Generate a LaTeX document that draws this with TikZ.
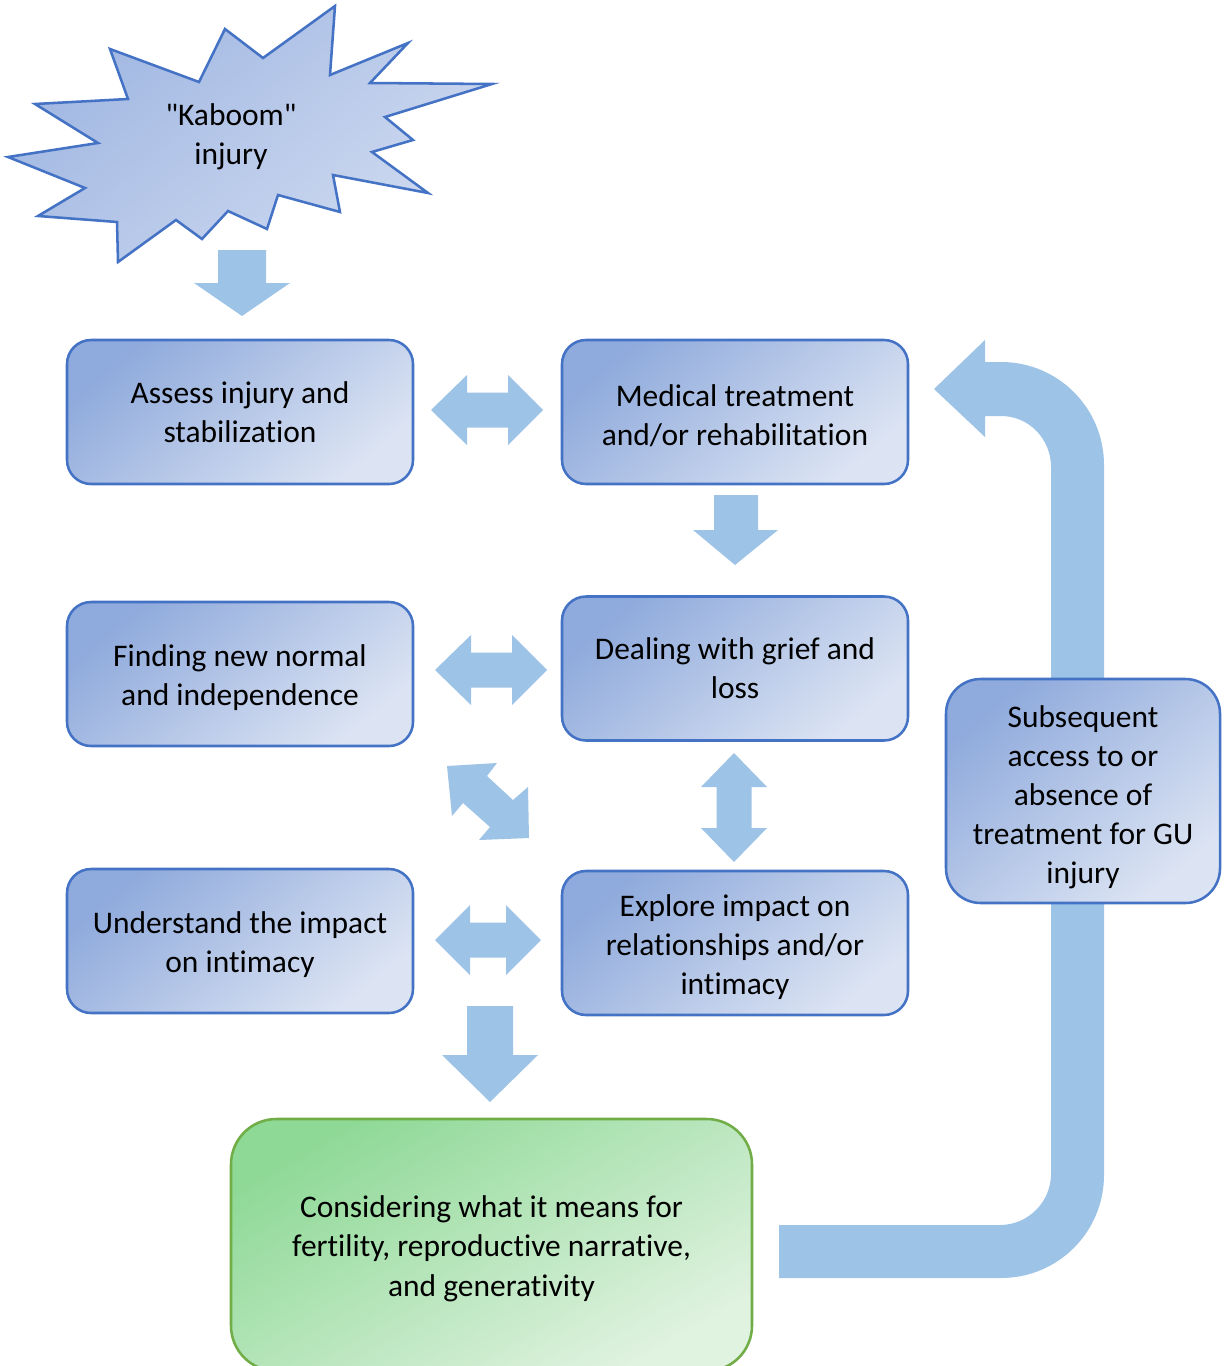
\documentclass[tikz,border=0pt]{standalone}
\usepackage{fontspec}
\setmainfont{Carlito}[Ligatures={TeXOff,NoCommon}]
\definecolor{arrowblue}{HTML}{9DC3E6}
\definecolor{boxline}{HTML}{4472C4}
\definecolor{bluedark}{HTML}{8FAADC}
\definecolor{bluelight}{HTML}{DCE4F3}
\definecolor{stardark}{HTML}{A0B7E2}
\definecolor{starlight}{HTML}{CFDAF0}
\definecolor{greendark}{HTML}{8FD997}
\definecolor{greenlight}{HTML}{E0F2E0}
\definecolor{greenline}{HTML}{70AD47}
\newcommand\myStrutA{\rule{0pt}{22pt}}
\newcommand\myStrutB{\rule{0pt}{26pt}}
\tikzset{
  txt/.style={align=center, text=black, font=\fontsize{23.6pt}{29.3pt}\selectfont},
  bluebox/.style={txt, draw=boxline, line width=1.9pt, rounded corners=18pt,
    top color=bluedark, bottom color=bluelight, shading angle=40,
    minimum width=259.5pt, minimum height=108pt, inner sep=0pt},
  blockarrow/.style={fill=arrowblue, draw=none},
}
\begin{document}
\begin{tikzpicture}[x=0.75pt, y=-0.75pt]
\useasboundingbox (0,0) rectangle (1225,1366);

% big return arrow (behind the boxes)
\fill[blockarrow] (779,1225) -- (1000,1225) .. controls (1028,1225) and (1051,1202) .. (1051,1174)
  -- (1051,467) .. controls (1051,439) and (1029,416) .. (1001,416) -- (985,416) -- (985,437)
  -- (934,389) -- (985,340) -- (985,362) -- (1001,362)
  .. controls (1058,362) and (1104,408) .. (1104,465) -- (1104,1175)
  .. controls (1104,1232) and (1058,1278) .. (1001,1278) -- (779,1278) -- cycle;

% starburst
\draw[draw=boxline, line width=1.9pt, line join=miter, top color=stardark, bottom color=starlight, shading angle=40]
  (335,6) -- (330,75) -- (408,43) -- (370,83) -- (492,84) -- (385,117) -- (413,140) -- (372,152)
  -- (428,193) -- (333,175) -- (340,212) -- (278,195) -- (267,229) -- (228,211) -- (202,239)
  -- (176,220) -- (118,262) -- (117,222) -- (38,216) -- (85,188) -- (8,157) -- (98,143)
  -- (35,104) -- (128,99) -- (110,49) -- (199,82) -- (225,29) -- (263,58) -- cycle;
\node[txt] (kaboom) at (231,133) {\myStrutA"Kaboom"\\injury};

% boxes
\node[bluebox] (assess) at (240,412) {Assess injury and\\stabilization};
\node[bluebox] (medical) at (735,412) {\myStrutA Medical treatment\\and/or rehabilitation};
\node[bluebox] (finding) at (240,674) {\myStrutA Finding new normal\\and independence};
\node[bluebox] (dealing) at (735,668.5) {Dealing with grief and\\loss};
\node[bluebox] (understand) at (240,941) {\myStrutA Understand the impact\\on intimacy};
\node[bluebox] (explore) at (735,943) {\myStrutA Explore impact on\\relationships and/or\\intimacy};
\node[bluebox, minimum width=205.5pt, minimum height=168pt, rounded corners=26pt] (subsequent) at (1083,791)
  {\myStrutB Subsequent\\access to or\\absence of\\treatment for GU\\injury};
\node[txt, draw=greenline, line width=1.9pt, rounded corners=34pt, top color=greendark, bottom color=greenlight,
  shading angle=30, minimum width=390.75pt, minimum height=189pt, inner sep=0pt] (considering) at (491.5,1245)
  {\myStrutA Considering what it means for\\fertility, reproductive narrative,\\and generativity};

% down arrows
\fill[blockarrow] (218,250) -- (266,250) -- (266,283) -- (290,283) -- (242,316) -- (194,283) -- (218,283) -- cycle;
\fill[blockarrow] (714,495) -- (758,495) -- (758,530) -- (778,530) -- (735,565) -- (693,530) -- (714,530) -- cycle;
\fill[blockarrow] (467,1006) -- (513,1006) -- (513,1055) -- (538,1055) -- (490,1102) -- (442,1055) -- (467,1055) -- cycle;

% horizontal double arrows
\fill[blockarrow] (431,410) -- (467,375) -- (467,392.5) -- (508,392.5) -- (508,375) -- (543,410)
  -- (508,445) -- (508,427.5) -- (467,427.5) -- (467,445) -- cycle;
\fill[blockarrow] (435,670) -- (471,635) -- (471,652.5) -- (512,652.5) -- (512,635) -- (547,670)
  -- (512,705) -- (512,687.5) -- (471,687.5) -- (471,705) -- cycle;
\fill[blockarrow] (435,940) -- (470,905) -- (470,922.5) -- (506,922.5) -- (506,905) -- (541,940)
  -- (506,975) -- (506,957.5) -- (470,957.5) -- (470,975) -- cycle;

% vertical double arrow
\fill[blockarrow] (734,753) -- (767,787) -- (751.5,787) -- (751.5,828) -- (767,828) -- (734,862)
  -- (701,828) -- (716.5,828) -- (716.5,787) -- (701,787) -- cycle;

% diagonal double arrow
\fill[blockarrow] (447,766) -- (497,763) -- (487,776) -- (513,800) -- (528,787) -- (529,838)
  -- (479,840) -- (490,827) -- (463,803) -- (452,816) -- cycle;
\end{tikzpicture}
\end{document}
